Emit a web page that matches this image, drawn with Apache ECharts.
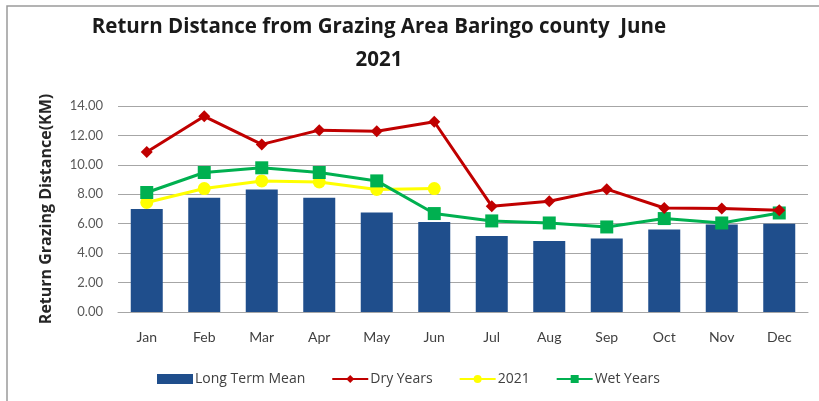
<!DOCTYPE html>
<html>
<head>
<meta charset="utf-8">
<script src="https://cdn.jsdelivr.net/npm/echarts@6/dist/echarts.min.js"></script>
<style>
  html, body { margin: 0; padding: 0; background: #fff; }
  #chart { width: 819px; height: 401px; }
</style>
</head>
<body>
<div id="chart"></div>
<script>
var months = ['Jan', 'Feb', 'Mar', 'Apr', 'May', 'Jun', 'Jul', 'Aug', 'Sep', 'Oct', 'Nov', 'Dec'];
var longTermMean = [7.0, 7.76, 8.33, 7.76, 6.76, 6.12, 5.17, 4.83, 5.0, 5.6, 5.95, 6.0];
var dryYears = [10.88, 13.3, 11.39, 12.36, 12.29, 12.93, 7.19, 7.53, 8.35, 7.07, 7.03, 6.92];
var year2021 = [7.44, 8.39, 8.91, 8.84, 8.33, 8.39, null, null, null, null, null, null];
var wetYears = [8.12, 9.48, 9.8, 9.48, 8.91, 6.69, 6.19, 6.05, 5.78, 6.35, 6.05, 6.73];

var chart = echarts.init(document.getElementById('chart'));

var option = {
  backgroundColor: '#fff',
  animation: false,
  title: {
    text: 'Return Distance from Grazing Area Baringo county  June\n2021',
    left: 374,
    top: 6,
    textAlign: 'center',
    textStyle: {
      fontFamily: 'Open Sans',
      fontWeight: 'bold',
      fontSize: 20.5,
      lineHeight: 33,
      color: '#1a1a1a'
    }
  },
  graphic: [{
    type: 'rect',
    shape: { x: 7, y: 6, width: 830, height: 420 },
    style: { fill: 'none', stroke: '#9a9a9a', lineWidth: 1.5 },
    silent: true
  }],
  legend: {
    top: 367,
    left: 152,
    itemGap: 26,
    itemWidth: 36,
    itemHeight: 10,
    textStyle: { fontFamily: 'Open Sans', fontSize: 14, color: '#404040', padding: [0, 0, 0, -3] },
    data: [
      { name: 'Long Term Mean', icon: 'rect' },
      'Dry Years', '2021', 'Wet Years'
    ]
  },
  grid: { left: 118, right: 11, top: 106, bottom: 89 },
  xAxis: {
    type: 'category',
    data: months,
    axisLine: { lineStyle: { color: '#a6a6a6', width: 1 } },
    axisTick: { show: false },
    axisLabel: { margin: 18, fontFamily: 'Lato', fontSize: 14, color: '#404040' }
  },
  yAxis: {
    type: 'value',
    min: 0,
    max: 14,
    interval: 2,
    name: 'Return Grazing Distance(KM)',
    nameLocation: 'middle',
    nameGap: 64,
    nameTextStyle: { fontFamily: 'Open Sans', fontWeight: 'bold', fontSize: 16, color: '#262626' },
    axisLine: { show: false },
    axisTick: { show: false },
    axisLabel: {
      margin: 15,
      fontFamily: 'Lato',
      fontSize: 13,
      color: '#595959',
      formatter: function (v) { return v.toFixed(2); }
    },
    splitLine: { lineStyle: { color: '#a6a6a6', width: 1 } }
  },
  series: [
    {
      name: 'Long Term Mean',
      type: 'bar',
      data: longTermMean,
      barWidth: 32,
      itemStyle: { color: '#1f4e8c' },
      z: 1
    },
    {
      name: 'Dry Years',
      type: 'line',
      data: dryYears,
      symbol: 'diamond',
      symbolSize: 12,
      lineStyle: { color: '#c00000', width: 3 },
      itemStyle: { color: '#c00000' },
      z: 4
    },
    {
      name: '2021',
      type: 'line',
      data: year2021,
      symbol: 'circle',
      symbolSize: 13,
      lineStyle: { color: '#ffff00', width: 3 },
      itemStyle: { color: '#ffff00' },
      z: 2
    },
    {
      name: 'Wet Years',
      type: 'line',
      data: wetYears,
      symbol: 'rect',
      symbolSize: 13,
      lineStyle: { color: '#00b050', width: 3 },
      itemStyle: { color: '#00b050' },
      z: 3
    }
  ]
};

chart.setOption(option);
</script>
</body>
</html>
